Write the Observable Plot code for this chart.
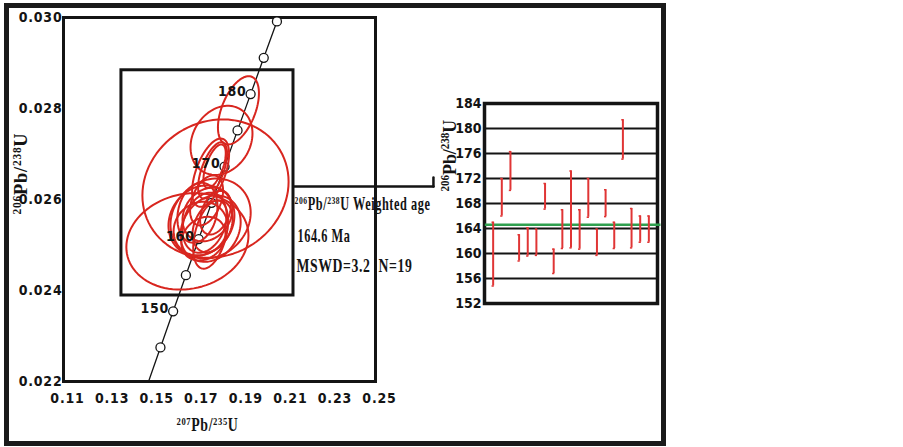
<!DOCTYPE html>
<html><head><meta charset="utf-8">
<script src="https://cdn.jsdelivr.net/npm/d3@7"></script>
<script src="https://cdn.jsdelivr.net/npm/@observablehq/plot@0.6"></script>
<style>
html,body{margin:0;padding:0;background:#fff;}
#wrap{position:relative;width:903px;height:447px;overflow:hidden;background:#fff;}
#outer{position:absolute;left:4px;top:3px;width:662px;height:443px;box-sizing:border-box;border:5px solid #1a1a1a;}
#left,#right{position:absolute;top:0;}
#left{left:0;} #right{left:400px;}
svg{background:transparent !important;}
</style></head><body>
<div id="wrap"><div id="outer"></div><div id="left"></div><div id="right"></div></div>
<script>
// ---------- Concordia diagram data ----------
const xTicks = [0.11, 0.13, 0.15, 0.17, 0.19, 0.21, 0.23, 0.25];
const yTicks = [0.022, 0.024, 0.026, 0.028, 0.030];
// concordia curve points (age in Ma, 207Pb/235U, 206Pb/238U)
const concAge = [140.3, 145, 150, 155, 160, 165, 170, 175, 180, 185, 190];
const concX   = [0.14817, 0.15350, 0.15920, 0.16492, 0.17067, 0.17645, 0.18226, 0.18809, 0.19396, 0.19985, 0.20577];
const concY   = [0.02200, 0.022748, 0.023542, 0.024336, 0.025131, 0.025926, 0.026722, 0.027519, 0.028316, 0.029114, 0.029913];
const markerAges = [145, 150, 155, 160, 165, 170, 175, 180, 185, 190];
const labelAges = [150, 160, 170, 180];
// error ellipses: centre, half-widths and correlation
const ellCx  = [0.1782, 0.1656, 0.1809, 0.1885, 0.1760, 0.1769, 0.1778, 0.1760, 0.1719, 0.1760, 0.1760, 0.1733, 0.1746, 0.1715, 0.1769, 0.1742, 0.1728, 0.1782, 0.1701];
const ellCy  = [0.02624, 0.02508, 0.02730, 0.02796, 0.02659, 0.02664, 0.02673, 0.02558, 0.02554, 0.02536, 0.02523, 0.02549, 0.02567, 0.02536, 0.02541, 0.02598, 0.02514, 0.02571, 0.02571];
const ellSx  = [0.0328, 0.0274, 0.0139, 0.0092, 0.0083, 0.0065, 0.0050, 0.0180, 0.0148, 0.0135, 0.0078, 0.0099, 0.0112, 0.0121, 0.0090, 0.0074, 0.0099, 0.0069, 0.0090];
const ellSy  = [0.00152, 0.00106, 0.00076, 0.00075, 0.00075, 0.00062, 0.00048, 0.00088, 0.00077, 0.00073, 0.00075, 0.00066, 0.00059, 0.00059, 0.00057, 0.00055, 0.00048, 0.00048, 0.00066];
const ellRho = [0.1, 0.12, 0.2, 0.5, 0.55, 0.6, 0.6, 0.15, 0.15, 0.2, 0.4, 0.25, 0.2, 0.1, 0.3, 0.4, 0.2, 0.35, 0.2];
// enlarged window box and annotation
const zoomBox = [{x1: 0.1360, x2: 0.2132, y1: 0.02389, y2: 0.02884}];
const linkLine = [{x: 0.2132, y: 0.026286}, {x: 0.2760, y: 0.026286}];
const linkTick = [{x: 0.2760, y: 0.026286}, {x: 0.2760, y: 0.026483}];
const noteText = ["^206^Pb/^238^U Weighted age", "164.6 Ma", "MSWD=3.2  N=19"];
const noteX = [0.2137, 0.2150, 0.2145];
const noteY = [0.02589, 0.025187, 0.024527];
const noteLen = [136, 53, 116];

// ---------- Weighted mean panel data ----------
const spotIndex = [1,2,3,4,5,6,7,8,9,10,11,12,13,14,15,16,17,18,19];
const ageHigh = [165.0,172.0,176.3,163.0,164.1,163.9,171.2,160.7,167.0,173.2,167.0,172.0,163.9,170.2,165.0,181.4,167.2,166.0,166.0];
const ageLow  = [154.8,166.0,170.1,158.8,159.6,159.7,167.1,156.8,160.8,160.9,160.7,165.8,159.7,165.9,160.8,175.1,160.9,161.8,161.8];
const meanAge = 164.6;
const ageTicks = [152,156,160,164,168,172,176,180,184];
const ageGrid = [156,160,164,168,172,176,180];

const RED = "#d8261f", BAR = "#e03535", GREEN = "#2fa04f", INK = "#141414";
const tickFont = "'Liberation Sans Narrow','Arial Narrow','DejaVu Sans Condensed',sans-serif";
const serif = "'Liberation Serif','DejaVu Serif',serif";

// turn ^..^ into superscripts
function supify(svg) {
  svg.querySelectorAll("text").forEach(t => {
    const s = t.textContent;
    if (!s.includes("^")) return;
    t.setAttribute("data-key", s);
    const parts = s.split("^");
    t.textContent = "";
    parts.forEach((p, i) => {
      if (!p) return;
      const ts = document.createElementNS("http://www.w3.org/2000/svg", "tspan");
      ts.textContent = p;
      if (i % 2 === 1) { ts.setAttribute("baseline-shift", "super"); ts.setAttribute("font-size", "62%"); }
      t.appendChild(ts);
    });
  });
}
// squeeze a text horizontally (condensed face) to a target length
function condense(svg, lengths) {
  svg.querySelectorAll("text").forEach(t => {
    const key = t.getAttribute("data-key") || t.textContent;
    const len = lengths[key];
    if (!len) return;
    const b = t.getBBox();
    if (!b.width) return;
    const sx = len / b.width;
    const anchor = getComputedStyle(t).textAnchor || "start";
    const cx = anchor === "middle" ? b.x + b.width / 2 : anchor === "end" ? b.x + b.width : b.x;
    const T = t.getAttribute("transform") || "";
    t.setAttribute("transform", `${T} translate(${cx},0) scale(${sx},1) translate(${-cx},0)`.trim());
  });
}

// ellipse outlines from their parameters
const ellPts = [];
ellCx.forEach((cx, k) => {
  const r = ellRho[k], q = Math.sqrt(1 - r * r);
  for (let a = 0; a < 360; a += 4) {
    const t = a * Math.PI / 180;
    ellPts.push({k, x: cx + ellSx[k] * Math.cos(t), y: ellCy[k] + ellSy[k] * (r * Math.cos(t) + q * Math.sin(t))});
  }
});
const conc = concAge.map((a, i) => ({a, x: concX[i], y: concY[i]}));
const markers = conc.filter(d => markerAges.includes(d.a));
const labels = conc.filter(d => labelAges.includes(d.a));
const notes = noteText.map((t, i) => ({t, x: noteX[i], y: noteY[i]}));
const leftLens = {};
noteText.forEach((t, i) => leftLens[t] = noteLen[i]);
leftLens["^206^Pb/^238^U"] = 82;
leftLens["^207^Pb/^235^U"] = 62;

const left = Plot.plot({
  width: 440, height: 447,
  marginLeft: 63, marginRight: 65, marginTop: 17, marginBottom: 66,
  style: {background: "transparent", fontFamily: tickFont, fontSize: "14px", fontWeight: "bold", color: INK, overflow: "visible", letterSpacing: "0.8px"},
  x: {domain: [0.11, 0.25]},
  y: {domain: [0.022, 0.030]},
  marks: [
    Plot.axisX(xTicks, {tickSize: 0, tickPadding: 12, dx: 4, tickFormat: d => d.toFixed(2), label: null, fontSize: 14}),
    Plot.axisY(yTicks, {tickSize: 0, tickPadding: 1, tickFormat: d => d.toFixed(3), label: null, fontSize: 14}),
    Plot.frame({stroke: INK, strokeWidth: 3}),
    Plot.rect(zoomBox, {x1: "x1", x2: "x2", y1: "y1", y2: "y2", fill: "none", stroke: INK, strokeWidth: 3}),
    Plot.line(conc, {x: "x", y: "y", stroke: INK, strokeWidth: 1.3}),
    Plot.dot(markers, {x: "x", y: "y", r: 4.5, fill: "white", stroke: INK, strokeWidth: 1.3}),
    Plot.line(ellPts, {x: "x", y: "y", z: "k", curve: "linear-closed", stroke: RED, strokeWidth: 2}),
    Plot.text(labels, {x: "x", y: "y", text: d => String(d.a), textAnchor: "end", dx: -4, dy: -3, fontSize: 14, fill: INK}),
    Plot.line(linkLine, {x: "x", y: "y", stroke: INK, strokeWidth: 2.5}),
    Plot.line(linkTick, {x: "x", y: "y", stroke: INK, strokeWidth: 2.5}),
    Plot.text(notes, {x: "x", y: "y", text: "t", textAnchor: "start", fontFamily: serif, fontSize: 18, fontWeight: "bold", fill: INK}),
    Plot.text(["^206^Pb/^238^U"], {text: d => d, frameAnchor: "left", dx: -43, dy: 15, rotate: -90, fontFamily: serif, fontSize: 19, fontWeight: "bold", fill: INK}),
    Plot.text(["^207^Pb/^235^U"], {text: d => d, frameAnchor: "bottom", dx: -12, dy: 49, fontFamily: serif, fontSize: 18, fontWeight: "bold", fill: INK})
  ]
});
supify(left);
document.getElementById("left").appendChild(left);
condense(left, leftLens);

const spots = spotIndex.map((i, k) => ({i, hi: ageHigh[k], lo: ageLow[k]}));
const right = Plot.plot({
  width: 260, height: 447,
  marginLeft: 84, marginRight: 3, marginTop: 103, marginBottom: 144,
  style: {background: "transparent", fontFamily: tickFont, fontSize: "14px", fontWeight: "bold", color: INK, overflow: "visible"},
  x: {domain: [0, 20], axis: null},
  y: {domain: [152, 184]},
  marks: [
    Plot.ruleY(ageGrid, {stroke: INK, strokeWidth: 2}),
    Plot.frame({stroke: INK, strokeWidth: 3.5}),
    Plot.axisY(ageTicks, {tickSize: 0, tickPadding: 3, label: null, fontSize: 14}),
    Plot.ruleY([{y: meanAge, x1: 0.1, x2: 20.4}], {y: "y", x1: "x1", x2: "x2", stroke: GREEN, strokeWidth: 2.5}),
    Plot.ruleX(spots, {x: "i", y1: "lo", y2: "hi", stroke: BAR, strokeWidth: 2}),
    Plot.ruleY(spots, {y: "hi", x1: d => d.i - 0.13, x2: d => d.i + 0.13, stroke: BAR, strokeWidth: 1.5}),
    Plot.ruleY(spots, {y: "lo", x1: d => d.i - 0.13, x2: d => d.i + 0.13, stroke: BAR, strokeWidth: 1.5}),
    Plot.text(["^206^Pb/^238^U"], {text: d => d, frameAnchor: "left", dx: -35, dy: -12, rotate: -90, fontFamily: serif, fontSize: 19, fontWeight: "bold", fill: INK})
  ]
});
supify(right);
document.getElementById("right").appendChild(right);
condense(right, {"^206^Pb/^238^U": 72});
</script>
</body></html>
